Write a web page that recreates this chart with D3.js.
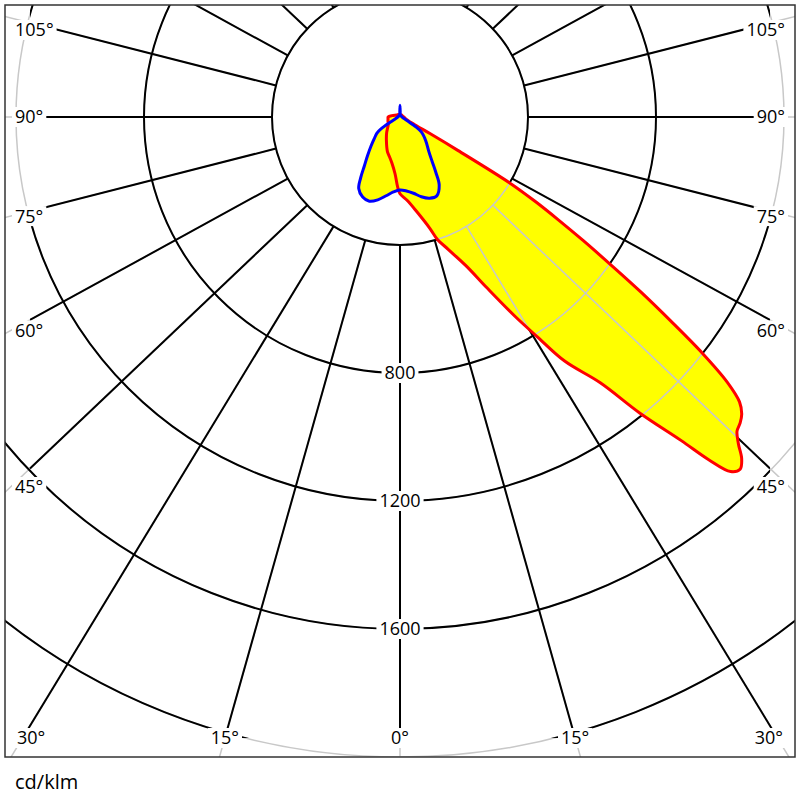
<!DOCTYPE html>
<html><head><meta charset="utf-8">
<script src="https://cdn.jsdelivr.net/npm/d3@7"></script>
<style>body{margin:0;background:#fff}</style>
</head><body>
<svg id="c" width="800" height="800" xmlns="http://www.w3.org/2000/svg"></svg>
<script>
// ---------- data ----------
const intensityTicks = [400, 800, 1200, 1600, 2000, 2400];
const intensityLabels = [800, 1200, 1600];
const radialAngles = [0, 15, 30, 45, 60, 75, 90, 105, 120, 135, 150, 165, 180];
const sideLabelAngles = [45, 60, 75, 90, 105];
const bottomLabelAngles = [0, 15, 30];
const unitLabel = "cd/klm";

// C0 half (right side) of the red curve
const redC0Angles = [0,5,10,15,17,20,24,27,30,32,34,37,39,41,42,43,44,45,46,47,48,49,50,51,52,53,54,55,56,57,58,59,60,61,62,65,70,80,90,100,120,150,180];
const redC0Values = [240,262,300,360,400,440,510,600,720,810,920,1040,1190,1340,1440,1515,1530,1510,1470,1440,1430,1415,1385,1315,1200,1060,930,800,690,590,500,400,210,110,60,30,20,15,12,10,8,8,8];
// C180 half (left side) of the red curve
const redC180Angles = [0,2,5,10,15,20,30,40,50,60,70,80,90,100,120,150,180];
const redC180Values = [240,218,178,146,128,115,85,65,50,42,40,38,37,25,12,9,8];
// blue curve (C90 right, C270 left)
const blueAngles = [0,5,10,15,20,25,30,33,36,40,45,50,55,58,62,70,90,120,150,170,176,178,180];
const blueC90Values  = [228,232,242,258,270,272,245,205,170,140,118,100,82,60,30,12,6,5,5,6,8,18,37];
const blueC270Values = [228,235,250,268,280,276,258,225,190,158,128,105,88,70,35,14,7,5,5,6,8,18,37];

// ---------- layout ----------
const cx = 400, cy = 117;
const frame = {x0: 5, y0: 5, x1: 795, y1: 757};
const labelEdgeL = 30, labelEdgeR = 770, labelBottom = 738;
const k = 0.95;           // vertical squeeze of the radial grid lines
const r = d3.scaleLinear().domain([0, 2000]).range([0, 640]);
const rad = d => d * Math.PI / 180;
const GRAY = "#c8c8c8";
const FONT = "'Open Sans', 'DejaVu Sans', sans-serif";

const svg = d3.select("#c");
svg.append("rect").attr("width", 800).attr("height", 800).attr("fill", "#fff");
const defs = svg.append("defs");

defs.append("clipPath").attr("id", "frameClip").append("rect")
  .attr("x", frame.x0).attr("y", frame.y0)
  .attr("width", frame.x1 - frame.x0).attr("height", frame.y1 - frame.y0);

defs.append("clipPath").attr("id", "blackClip").append("polygon")
  .attr("points", [[labelEdgeL, frame.y0], [labelEdgeR, frame.y0], [labelEdgeR, 500], [frame.x1, 500],
                   [frame.x1, labelBottom], [frame.x0, labelBottom], [frame.x0, 440], [labelEdgeL, 440]]
        .map(p => p.join(",")).join(" "));

// radial line direction
function dir(g, s) {
  const dx = s * Math.sin(rad(g)), dy = k * Math.cos(rad(g));
  const n = Math.hypot(dx, dy);
  return [dx / n, dy / n];
}
const sides = g => (g === 0 || g === 180) ? [1] : [-1, 1];

// ---------- grid drawing ----------
function drawGrid(parent, color, width, black) {
  const g = parent.append("g").attr("fill", "none").attr("stroke", color).attr("stroke-width", width);
  intensityTicks.forEach(v => {
    g.append("circle").attr("cx", cx).attr("cy", cy).attr("r", r(v));
  });
  radialAngles.forEach(a => {
    sides(a).forEach(s => {
      const [dx, dy] = dir(a, s);
      const r0 = r(400);
      let r1 = 1200;
      if (black) {
        if (sideLabelAngles.includes(a)) r1 = Math.abs((cx - labelEdgeL) / dx);
        else if (bottomLabelAngles.includes(a)) r1 = (labelBottom - cy) / dy;
      }
      g.append("line")
        .attr("x1", cx + r0 * dx).attr("y1", cy + r0 * dy)
        .attr("x2", cx + r1 * dx).attr("y2", cy + r1 * dy);
    });
  });
  return g;
}

drawGrid(svg.append("g").attr("clip-path", "url(#frameClip)"), GRAY, 1.5, false);
drawGrid(svg.append("g").attr("clip-path", "url(#frameClip)")
            .append("g").attr("clip-path", "url(#blackClip)"), "#000", 2, true);

// ---------- curves ----------
function curvePoints(angR, valR, angL, valL) {
  const pts = [];
  angR.forEach((g, i) => pts.push({a: Math.PI - rad(g), v: valR[i]}));
  for (let i = angL.length - 1; i >= 0; i--) {
    const g = angL[i];
    if (g === 0 || g === 180) continue;
    pts.push({a: Math.PI + rad(g), v: valL[i]});
  }
  return pts;
}
const radial = d3.lineRadial().angle(d => d.a).radius(d => r(d.v))
  .curve(d3.curveCatmullRomClosed.alpha(0.5));
const redPath = radial(curvePoints(redC0Angles, redC0Values, redC180Angles, redC180Values));
const bluePath = radial(curvePoints(blueAngles, blueC90Values, blueAngles, blueC270Values));

const fillG = svg.append("g").attr("transform", `translate(${cx},${cy})`);
fillG.append("path").attr("d", redPath).attr("fill", "#ffff00");
fillG.append("path").attr("d", bluePath).attr("fill", "#ffff00");

const yc = defs.append("clipPath").attr("id", "yellowClip");
yc.append("path").attr("d", redPath).attr("transform", `translate(${cx},${cy})`);
yc.append("path").attr("d", bluePath).attr("transform", `translate(${cx},${cy})`);
drawGrid(svg.append("g").attr("clip-path", "url(#yellowClip)"), GRAY, 1.5, false);

const lineG = svg.append("g").attr("transform", `translate(${cx},${cy})`)
  .attr("fill", "none").attr("stroke-width", 3).attr("stroke-linejoin", "round");
lineG.append("path").attr("d", redPath).attr("stroke", "#ff0000");
lineG.append("path").attr("d", bluePath).attr("stroke", "#0000ff");

// ---------- labels ----------
const labelG = svg.append("g").attr("font-family", FONT).attr("font-size", 18).attr("fill", "#000");
function label(text, x, y, anchor, clampX) {
  const t = labelG.append("text").attr("x", x).attr("y", y).attr("dy", "0.36em")
    .attr("text-anchor", anchor).text(text);
  let bb = t.node().getBBox();
  if (clampX) {
    let nx = x;
    if (bb.x < 17) nx = x + (17 - bb.x);
    if (bb.x + bb.width > 783) nx = x - (bb.x + bb.width - 783);
    t.attr("x", nx);
    bb = t.node().getBBox();
  }
  labelG.insert("rect", "text")
    .attr("x", bb.x - 3).attr("y", y - 10).attr("width", bb.width + 6).attr("height", 20)
    .attr("fill", "#fff");
}
sideLabelAngles.forEach(a => {
  const y = Math.max(30, cy + (cx - labelEdgeL) * Math.cos(rad(a)) / Math.sin(rad(a)));
  label(`${a}°`, 15, y, "start", false);
  label(`${a}°`, 785, y, "end", false);
});
bottomLabelAngles.forEach(a => {
  sides(a).forEach(s => {
    const [dx, dy] = dir(a, s);
    const t = (labelBottom - cy) / dy;
    label(`${a}°`, cx + t * dx, labelBottom, "middle", true);
  });
});
intensityLabels.forEach(v => label(String(v), cx, cy + r(v), "middle", false));

svg.append("rect").attr("x", frame.x0).attr("y", frame.y0)
  .attr("width", frame.x1 - frame.x0).attr("height", frame.y1 - frame.y0)
  .attr("fill", "none").attr("stroke", "#333").attr("stroke-width", 1.5);

svg.append("text").attr("x", 15).attr("y", 789).attr("font-family", FONT)
  .attr("font-size", 20).attr("fill", "#000").text(unitLabel);
</script>
</body></html>
